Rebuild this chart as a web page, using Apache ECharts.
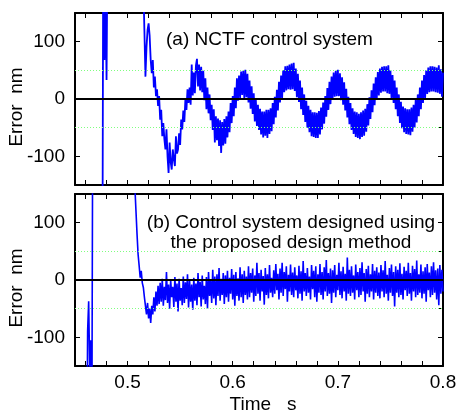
<!DOCTYPE html>
<html>
<head>
<meta charset="utf-8">
<script src="https://cdn.jsdelivr.net/npm/echarts@6/dist/echarts.min.js"></script>
<style>html,body{margin:0;padding:0;background:#fff;}#c{width:461px;height:412px;}</style>
</head>
<body>
<div id="c"></div>
<script>
// ---- data ----
const STEP = 0.001; // sampling period (s)
const xTicks = [0.46,0.48,0.50,0.52,0.54,0.56,0.58,0.60,0.62,0.64,0.66,0.68,0.70,0.72,0.74,0.76,0.78,0.80];
const xLabels = [0.5, 0.6, 0.7, 0.8];
const yLabels = [-100, 0, 100];
const yTicksRight = [-100, -50, 0, 50, 100];
const gridLevels = [-50, 50];

// (a) NCTF control system: transient (off-scale segments) then sampled values
const aPreT = [0.450, 0.476, 0.477, 0.478, 0.479, 0.480, 0.481, 0.514];
const aPreV = [-400, -400, 400, 68, 200, 33, 300, 300];
const aStart = 0.515;
const aVals = [
 200,120,39,90,120,132,110,68,45,68,
 20,39,5,17,-12,5,-36,-19,-65,-42,
 -70,-88,-53,-100,-129,-76,-110,-123,-88,-105,
 -117,-65,-95,-88,-60,-80,-36,-53,-20,-40,
 0,-19,17,-7,
 20,-10,60,6,46,10,58,70,22,60,
 15,56,12,49,-2,36,-18,20,-25,8,
 -37,-10,-54,-18,-76,-30,-72,-34,-82,-37,
 -94,-40,-81,-35,-78,-30,-67,-22,-58,-7,
 -42,5,-30,20,-16,36,-3,41,2,48,
 7,49,2,51,3,44,-6,32,-17,22,
 -26,10,-39,-2,-47,-10,-54,-17,-62,-22,
 -67,-22,-64,-19,-68,-19,-61,-16,-56,-7,
 -44,4,-32,16,-20,30,-6,41,2,50,
 12,57,15,58,17,60,16,62,17,63,
 14,53,3,44,-5,32,-18,20,-28,8,
 -40,-3,-50,-12,-58,-19,-65,-23,-66,-23,
 -68,-24,-68,-21,-62,-15,-53,-6,-43,5,
 -31,19,-19,30,-9,39,1,46,4,49,
 5,51,5,45,-2,38,-10,29,-20,18,
 -32,4,-44,-7,-54,-16,-61,-22,-66,-23,
 -68,-26,-70,-23,-66,-20,-64,-17,-57,-9,
 -46,3,-35,15,-23,27,-11,38,-1,47,
 6,53,11,56,13,57,13,57,10,59,
 9,50,2,42,-7,32,-18,20,-30,8,
 -42,-5,-51,-13,-58,-16,-61,-18,-62,-18,
 -63,-15,-57,-10,-50,-2,-41,8,-30,20,
 -18,32,-7,42,2,50,9,55,12,57,
 13,57,13,56,12,55,11,59,9,52,
 4,46
];

// (b) Control system designed using the proposed design method
const bPreT = [0.450, 0.461, 0.462, 0.463, 0.464, 0.465, 0.466, 0.467, 0.506];
const bPreV = [-400, -400, -90, -37, -160, -105, -300, 400, 400];
const bStart = 0.507;
const bVals = [
 160,120,80,45,25,4,16,-5,-13,-30,
 -45,-60,-40,-67,-50,-75,-45,-60,-30,-55,
 -20,-45,-10,-42,-5,-38,2,-45,-12,-35,
 14,-40,-8,-50,0,-30,-12,-47,5,-38,
 -6,-55,2,-36,-14,-44,6,-40,-4,-33,
 10,-48,-2,-38,-8,-52,4,-36,-6,-44,
 12,-30,-3,-46,8,-34,-10,-42,5,-50,
 14,-28,0,-40,18,-32,6,-44,10,-28,
 21,-36,2,-26,12,-42,8,-30,16,-38,
 4,-24,19,-34,9,-45,14,-28,3,-36,
 22,-30,10,-40,16,-26,6,-34,24,-30,
 12,-22,20,-38,8,-28,30,-24,12,-36,
 18,-20,7,-43,21,-26,10,-32,26,-22,
 4,-30,17,-24,28,-18,11,-34,20,-22,
 30,-28,14,-16,24,-38,9,-20,27,-26,
 13,-30,22,-18,8,-32,25,-24,15,-36,
 33,-20,12,-28,21,-22,6,-34,26,-16,
 16,-30,24,-38,10,-22,28,-26,14,-34,
 22,-20,35,-28,12,-24,20,-40,17,-22,
 26,-30,9,-18,30,-26,15,-32,23,-20,
 11,-36,39,-24,18,-28,24,-22,8,-34,
 27,-18,14,-30,21,-26,31,-20,12,-38,
 19,-24,25,-30,10,-20,28,-34,16,-22,
 22,-28,13,-32,26,-20,17,-30,33,-24,
 9,-36,21,-22,27,-28,14,-46,24,-22,
 18,-30,29,-26,11,-34,23,-18,16,-28,
 30,-24,12,-36,25,-20,19,-30,34,-26,
 10,-22,27,-32,15,-24,22,-38,28,-18,
 13,-30,24,-26,31,-22,17,-34,20,-44,
 26,-24,18,-20
];

function build(preT, preV, start, vals) {
  const d = preT.map((t, i) => [t, preV[i]]);
  vals.forEach((v, i) => d.push([+(start + i * STEP).toFixed(4), v]));
  return d;
}
const seriesA = build(aPreT, aPreV, aStart, aVals);
const seriesB = build(bPreT, bPreV, bStart, bVals);

// ---- chart ----
const FONT = 'Liberation Sans, Arial, Helvetica, sans-serif';
const chart = echarts.init(document.getElementById('c'), null, {renderer: 'canvas'});
function xAx(gi, pos, labels) {
  return {
    type: 'value', gridIndex: gi, position: pos, min: 0.45, max: 0.8,
    axisLine: {show: true, onZero: false, lineStyle: {color: '#000', width: 2}},
    axisTick: {show: true, inside: true, length: 5, customValues: xTicks, lineStyle: {color: '#000', width: 1}},
    axisLabel: labels ? {show: true, customValues: xLabels, formatter: v => v.toFixed(1), color: '#000', fontSize: 19, fontFamily: FONT, margin: 7} : {show: false},
    splitLine: {show: false}
  };
}
function yAx(gi, pos) {
  const left = pos === 'left';
  return {
    type: 'value', gridIndex: gi, position: pos, min: -150, max: 150, interval: 50,
    axisLine: {show: true, onZero: false, lineStyle: {color: '#000', width: 2}},
    axisTick: {show: true, inside: true, length: 5, customValues: left ? yLabels : yTicksRight, lineStyle: {color: '#000', width: 1}},
    axisLabel: left ? {show: true, customValues: yLabels, color: '#000', fontSize: 19, fontFamily: FONT, margin: 10} : {show: false},
    splitLine: {show: false}
  };
}
function refLines(xi, yi) {
  return [
    {type: 'line', xAxisIndex: xi, yAxisIndex: yi, data: [], z: 1, silent: true,
     markLine: {silent: true, symbol: 'none', animation: false, label: {show: false},
       lineStyle: {color: '#7fff7f', width: 1, type: [1, 2]},
       data: gridLevels.map(v => ({yAxis: v}))}},
    {type: 'line', xAxisIndex: xi, yAxisIndex: yi, data: [], z: 5, silent: true,
     markLine: {silent: true, symbol: 'none', animation: false, label: {show: false},
       lineStyle: {color: '#000', width: 2, type: 'solid'},
       data: [{yAxis: 0}]}}
  ];
}
const option = {
  animation: false,
  backgroundColor: '#fff',
  grid: [
    {left: 75, right: 18, top: 13, height: 172},
    {left: 75, right: 18, top: 194, height: 172}
  ],
  xAxis: [xAx(0, 'bottom', false), xAx(0, 'top', false), xAx(1, 'bottom', true), xAx(1, 'top', false)],
  yAxis: [yAx(0, 'left'), yAx(0, 'right'), yAx(1, 'left'), yAx(1, 'right')],
  series: [
    ...refLines(0, 0),
    {type: 'line', xAxisIndex: 0, yAxisIndex: 0, data: seriesA, symbol: 'none', z: 3, clip: true,
     lineStyle: {color: '#0000ff', width: 1.8}},
    ...refLines(2, 2),
    {type: 'line', xAxisIndex: 2, yAxisIndex: 2, data: seriesB, symbol: 'none', z: 3, clip: true,
     lineStyle: {color: '#0000ff', width: 1.6}}
  ],
  graphic: [
    {type: 'text', left: 166, top: 30, z: 10, style: {text: '(a) NCTF control system', font: '19px ' + FONT, fill: '#000'}},
    {type: 'text', x: 291, y: 233, z: 10, style: {text: '(b) Control system designed using\nthe proposed design method', font: '19px ' + FONT, fill: '#000', align: 'center', verticalAlign: 'middle', lineHeight: 20}},
    {type: 'text', x: 17, y: 107, rotation: Math.PI / 2, z: 10, style: {text: 'Error  nm', font: '19px ' + FONT, fill: '#000', align: 'center', verticalAlign: 'middle'}},
    {type: 'text', x: 17, y: 288, rotation: Math.PI / 2, z: 10, style: {text: 'Error  nm', font: '19px ' + FONT, fill: '#000', align: 'center', verticalAlign: 'middle'}},
    {type: 'text', x: 263, y: 405, z: 10, style: {text: 'Time   s', font: '19px ' + FONT, fill: '#000', align: 'center', verticalAlign: 'middle'}}
  ]
};
chart.setOption(option);
</script>
</body>
</html>
